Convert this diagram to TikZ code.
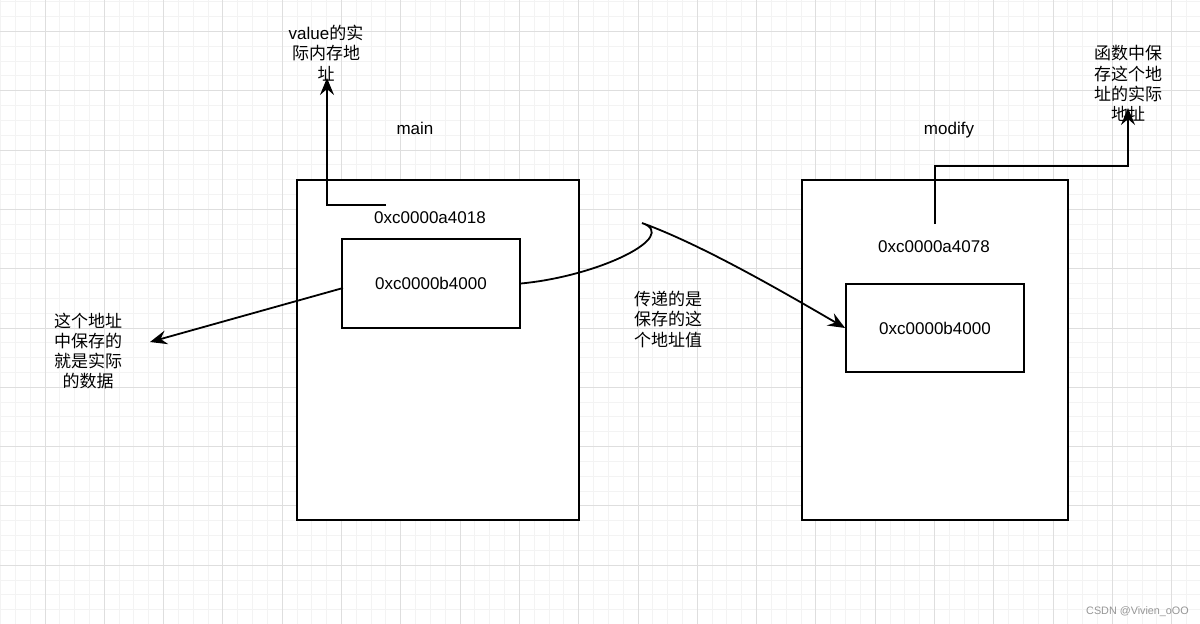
\documentclass[tikz,border=0pt]{standalone}
\usepackage{fontspec}
\setmainfont{Liberation Sans}
\newfontfamily\cjk{Noto Sans CJK SC}
\usetikzlibrary{arrows.meta}
\definecolor{gridminor}{RGB}{243,243,243}
\definecolor{gridmajor}{RGB}{222,222,222}
\definecolor{wm}{RGB}{150,150,150}
\begin{document}
\begin{tikzpicture}[x=1pt,y=-1pt,
  minorline/.style={draw=gridminor,line width=1pt},
  majorline/.style={draw=gridmajor,line width=1pt},
  box/.style={draw=black,line width=1.8pt,fill=white,inner sep=0pt,font=\fontsize{17}{20}\selectfont},
  txt/.style={inner sep=0pt,font=\fontsize{17}{20}\selectfont,text height=12pt,text depth=0pt},
  note/.style={inner sep=0pt,align=center,font=\fontsize{17}{20.3}\selectfont},
  cjknote/.style={inner sep=0pt,align=center,font=\fontsize{17}{20.3}\selectfont\cjk},
  conn/.style={draw=black,line width=1.8pt,-{Stealth[length=17pt,width=14pt,inset=6pt]}}]
\useasboundingbox (0,0) rectangle (1200,624);
\fill[white] (0,0) rectangle (1200,624);
% grid
\foreach \i in {-3,...,78} \draw[minorline] ({45+\i*14.825},0) -- ({45+\i*14.825},624);
\foreach \j in {-2,...,40} \draw[minorline] (0,{31.5+\j*14.825}) -- (1200,{31.5+\j*14.825});
\foreach \i in {0,...,19} \draw[majorline] ({45+\i*59.3},0) -- ({45+\i*59.3},624);
\foreach \j in {0,...,10} \draw[majorline] (0,{31.5+\j*59.3}) -- (1200,{31.5+\j*59.3});
% boxes
\node[box,minimum width=282pt,minimum height=340pt] (mainbox) at (438,350) {};
\node[box,minimum width=266pt,minimum height=340pt] (modbox) at (935,350) {};
\node[box,minimum width=178pt,minimum height=89pt] (b1in) at (431,283.5) {0xc0000b4000};
\node[box,minimum width=178pt,minimum height=88pt] (b2in) at (935,328) {0xc0000b4000};
% texts
\node[txt] (mainlbl) at (415,128) {main};
\node[txt] (modlbl) at (949,128) {modify};
\node[txt] (a1) at (430,217) {0xc0000a4018};
\node[txt] (a2) at (934,246.5) {0xc0000a4078};
\node[note] (n1) at (326,53) {value{\cjk 的实}\\{\cjk 际内存地}\\{\cjk 址}};
\node[cjknote] (n2) at (1128,83.5) {函数中保\\存这个地\\址的实际\\地址};
\node[cjknote] (n3) at (88,351) {这个地址\\中保存的\\就是实际\\的数据};
\node[cjknote] (n4) at (668,319.5) {传递的是\\保存的这\\个地址值};
\node[inner sep=0pt,anchor=east,text=wm,font=\fontsize{10.8}{12}\selectfont] (wmk) at (1189,612) {CSDN @Vivien\_oOO};
% connectors
\coordinate (s1) at (386,205);
\coordinate (t1) at (327,78);
\draw[conn] (s1) -| (t1);
\coordinate (s2) at (935,224);
\coordinate (c2) at (1128,166);
\coordinate (t2) at (1128,108);
\draw[conn] (s2) |- (c2) -- (t2);
\coordinate (s3) at (343,288);
\coordinate (t3) at (150,342);
\draw[conn] (s3) -- (t3);
\coordinate (hook) at (642,223);
\draw[conn] (b1in.east) .. controls (600,276) and (680,236) .. (hook) .. controls (700,244) and (780,290) .. (b2in.west);
\end{tikzpicture}
\end{document}
